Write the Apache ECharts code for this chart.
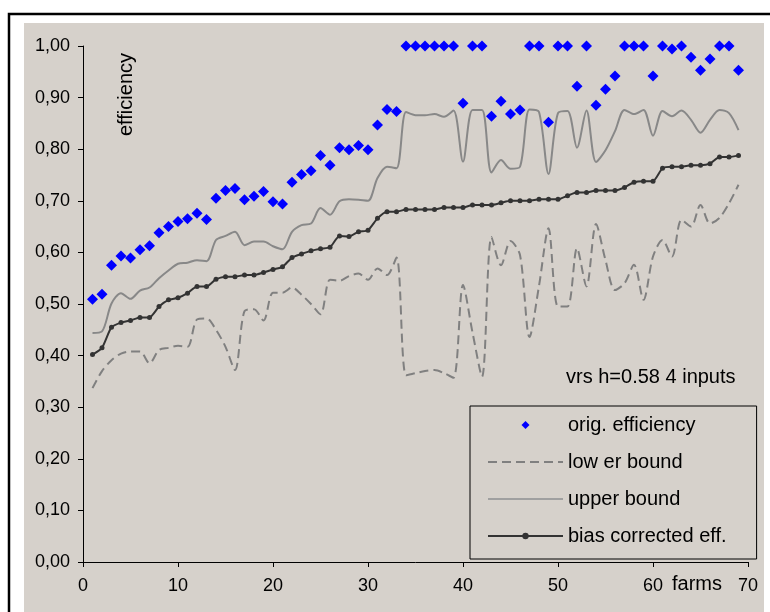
<!DOCTYPE html>
<html>
<head>
<meta charset="utf-8">
<script src="https://cdn.jsdelivr.net/npm/echarts@6/dist/echarts.min.js"></script>
<style>
  html, body { margin: 0; padding: 0; background: #ffffff; }
  #chart { width: 770px; height: 612px; }
</style>
</head>
<body>
<div id="chart"></div>
<script>
// farms 1..69
const farms = Array.from({ length: 69 }, (_, i) => i + 1);

const origEfficiency = [
  0.509, 0.519, 0.575, 0.593, 0.589, 0.605, 0.613, 0.638, 0.650, 0.660,
  0.665, 0.676, 0.664, 0.705, 0.720, 0.724, 0.702, 0.709, 0.718, 0.698,
  0.694, 0.736, 0.751, 0.758, 0.788, 0.769, 0.803, 0.799, 0.807, 0.799,
  0.847, 0.877, 0.873, 1.000, 1.000, 1.000, 1.000, 1.000, 1.000, 0.889,
  1.000, 1.000, 0.864, 0.893, 0.868, 0.876, 1.000, 1.000, 0.852, 1.000,
  1.000, 0.922, 1.000, 0.885, 0.916, 0.942, 1.000, 1.000, 1.000, 0.942,
  1.000, 0.994, 1.000, 0.978, 0.953, 0.975, 1.000, 1.000, 0.953
];

const lowerBound = [
  0.337, 0.370, 0.391, 0.404, 0.408, 0.408, 0.385, 0.411, 0.415, 0.419,
  0.417, 0.470, 0.472, 0.450, 0.417, 0.372, 0.486, 0.490, 0.468, 0.522,
  0.522, 0.532, 0.518, 0.500, 0.480, 0.547, 0.545, 0.554, 0.559, 0.547,
  0.569, 0.556, 0.590, 0.362, 0.366, 0.370, 0.372, 0.366, 0.357, 0.537,
  0.445, 0.359, 0.630, 0.575, 0.622, 0.595, 0.436, 0.535, 0.647, 0.495,
  0.495, 0.608, 0.534, 0.655, 0.585, 0.527, 0.540, 0.576, 0.508, 0.592,
  0.624, 0.592, 0.663, 0.650, 0.692, 0.656, 0.667, 0.695, 0.731
];

const upperBound = [
  0.444, 0.447, 0.501, 0.521, 0.510, 0.526, 0.532, 0.550, 0.565, 0.578,
  0.580, 0.585, 0.583, 0.624, 0.632, 0.640, 0.614, 0.621, 0.621, 0.612,
  0.606, 0.640, 0.653, 0.656, 0.686, 0.673, 0.699, 0.703, 0.702, 0.700,
  0.744, 0.766, 0.763, 0.872, 0.866, 0.866, 0.868, 0.863, 0.875, 0.776,
  0.876, 0.876, 0.755, 0.779, 0.762, 0.766, 0.877, 0.872, 0.752, 0.870,
  0.874, 0.803, 0.875, 0.775, 0.798, 0.835, 0.876, 0.868, 0.876, 0.826,
  0.874, 0.864, 0.875, 0.857, 0.832, 0.857, 0.876, 0.870, 0.837
];

const biasCorrected = [
  0.402, 0.415, 0.455, 0.464, 0.468, 0.474, 0.474, 0.495, 0.508, 0.512,
  0.521, 0.534, 0.534, 0.548, 0.553, 0.553, 0.556, 0.556, 0.561, 0.567,
  0.572, 0.590, 0.597, 0.603, 0.607, 0.610, 0.632, 0.631, 0.640, 0.643,
  0.666, 0.679, 0.679, 0.683, 0.683, 0.683, 0.683, 0.687, 0.687, 0.687,
  0.692, 0.692, 0.692, 0.696, 0.700, 0.700, 0.700, 0.703, 0.703, 0.703,
  0.710, 0.716, 0.716, 0.720, 0.720, 0.720, 0.726, 0.736, 0.738, 0.738,
  0.763, 0.766, 0.766, 0.769, 0.769, 0.772, 0.785, 0.785, 0.788
];

const seriesNames = ['orig. efficiency', 'low er bound', 'upper bound', 'bias corrected eff.'];

const pairs = vals => farms.map((f, i) => [f, vals[i]]);
const FONT = 'Liberation Sans';
const noDot = { color: 'rgba(0,0,0,0)', borderWidth: 0 };

const chart = echarts.init(document.getElementById('chart'));
chart.setOption({
  animation: false,
  backgroundColor: '#ffffff',
  textStyle: { fontFamily: FONT },
  graphic: [
    { type: 'rect', z: -10, shape: { x: 9, y: 14, width: 780, height: 620 },
      style: { fill: '#ffffff', stroke: '#000000', lineWidth: 2.5 } },
    { type: 'rect', z: -9, shape: { x: 24, y: 23, width: 740, height: 600 },
      style: { fill: '#d6d1cb' } },
    { type: 'text', left: 116, top: 53, rotation: Math.PI / 2,
      style: { text: 'efficiency', font: '20px "Liberation Sans"', fill: '#000' } },
    { type: 'text', left: 566, top: 367,
      style: { text: 'vrs h=0.58 4 inputs', font: '20px "Liberation Sans"', fill: '#000' } },
    { type: 'text', left: 672, top: 574,
      style: { text: 'farms', font: '20px "Liberation Sans"', fill: '#000' } }
  ],
  grid: { left: 83, right: 22, top: 46, bottom: 50 },
  legend: {
    orient: 'vertical',
    left: 470,
    top: 406,
    padding: [9, 30, 13, 17],
    itemWidth: 75,
    itemHeight: 8,
    itemGap: 17,
    symbolKeepAspect: true,
    borderColor: '#000',
    borderWidth: 1,
    data: [
      { name: seriesNames[0], icon: 'path://M0,5L5,0L10,5L5,10Z' },
      { name: seriesNames[1], itemStyle: noDot },
      { name: seriesNames[2], itemStyle: noDot, lineStyle: { color: '#a0a0a0' } },
      { name: seriesNames[3] }
    ],
    textStyle: { fontFamily: FONT, fontSize: 20, color: '#000', lineHeight: 20 }
  },
  xAxis: {
    type: 'value', min: 0, max: 70, interval: 10,
    axisLine: { lineStyle: { color: '#000', width: 1 } },
    axisTick: { show: true, length: 5, lineStyle: { color: '#000' } },
    axisLabel: { color: '#000', fontSize: 18, margin: 15, fontFamily: FONT },
    splitLine: { show: false }
  },
  yAxis: {
    type: 'value', min: 0, max: 1, interval: 0.1,
    axisLine: { show: true, lineStyle: { color: '#000', width: 1 } },
    axisTick: { show: true, length: 5, lineStyle: { color: '#000' } },
    axisLabel: { color: '#000', fontSize: 18, margin: 13, fontFamily: FONT,
      formatter: v => v.toFixed(2).replace('.', ',') },
    splitLine: { show: false }
  },
  series: [
    {
      name: seriesNames[0], type: 'scatter', data: pairs(origEfficiency),
      symbol: 'diamond', symbolSize: 11,
      itemStyle: { color: '#0000ff', opacity: 1 }, z: 5
    },
    {
      name: seriesNames[1], type: 'line', data: pairs(lowerBound),
      smooth: 0.3, showSymbol: false, symbol: 'none',
      lineStyle: { color: '#808080', width: 2, type: [9, 5] },
      itemStyle: { color: '#808080' }
    },
    {
      name: seriesNames[2], type: 'line', data: pairs(upperBound),
      smooth: 0.3, showSymbol: false, symbol: 'none',
      lineStyle: { color: '#888888', width: 2 },
      itemStyle: { color: '#888888' }
    },
    {
      name: seriesNames[3], type: 'line', data: pairs(biasCorrected),
      smooth: 0.2, symbol: 'circle', symbolSize: 5,
      lineStyle: { color: '#333333', width: 2 },
      itemStyle: { color: '#333333' }
    }
  ]
});
</script>
</body>
</html>
